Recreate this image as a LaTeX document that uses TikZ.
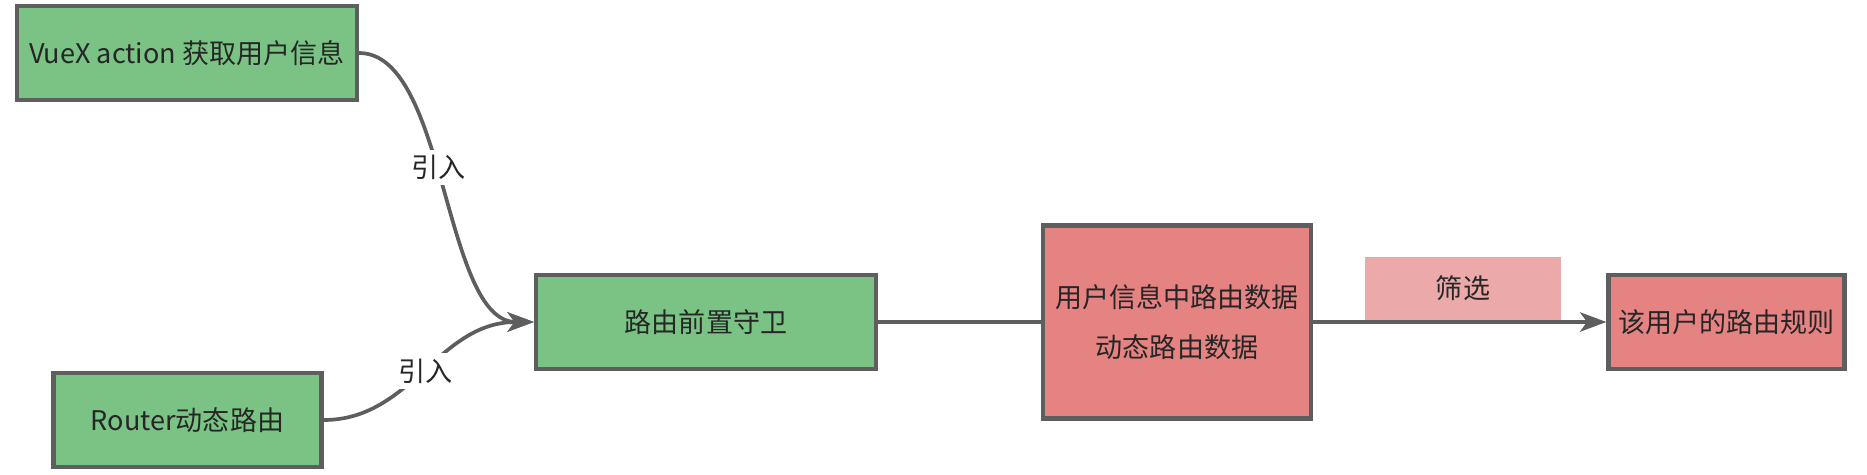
\documentclass[tikz,border=0pt]{standalone}
\usepackage{fontspec}
\setmainfont{Noto Sans CJK SC}
\usepackage{xcolor}
\usepackage{tikz}
\usetikzlibrary{arrows.meta,positioning}
\definecolor{linec}{HTML}{5E5E5E}
\definecolor{greenf}{HTML}{7AC384}
\definecolor{redf}{HTML}{E58282}
\definecolor{lblbg}{HTML}{EBA9A9}
\definecolor{txtc}{HTML}{262626}
\tikzset{
  ar/.style={-{Stealth[length=15pt,width=11pt,inset=4pt]},line width=2.1pt,linec},
  ln/.style={line width=2.1pt,linec},
  box/.style={draw=linec,line width=2.4pt,fill=greenf,align=center,inner sep=0pt,text=txtc,font=\fontsize{15.4}{28.4}\selectfont},
  rbox/.style={box,fill=redf},
  lbl/.style={fill=white,text=txtc,font=\fontsize{15.4}{18}\selectfont,inner sep=3pt}
}
\begin{document}
\begin{tikzpicture}[x=0.02cm,y=-0.02cm]
\useasboundingbox (0,0) rectangle (1867,474);
\node[box,minimum width=6.8cm,minimum height=1.88cm] (vuex) at (187,53) {VueX action 获取用户信息};
\node[box,minimum width=5.36cm,minimum height=1.88cm] (router) at (187.5,420) {Router动态路由};
\node[box,minimum width=6.8cm,minimum height=1.88cm] (guard) at (706,322) {路由前置守卫};
\node[rbox,minimum width=5.36cm,minimum height=3.86cm] (data) at (1177,322) {用户信息中路由数据\\动态路由数据};
\node[rbox,minimum width=4.72cm,minimum height=1.88cm] (rule) at (1726.5,322) {该用户的路由规则};
\node[fill=lblbg,text=txtc,minimum width=3.92cm,minimum height=1.26cm,font=\fontsize{15.4}{18}\selectfont] (filt) at (1463,288.5) {筛选};
\draw[ar] (vuex.east) .. controls +(88,0) and +(-91,0) .. (guard.west) node[lbl,pos=0.45] {引入};
\draw[ar] (router.east) .. controls +(88,0) and +(-96,0) .. (guard.west) node[lbl,pos=0.5] {引入};
\draw[ln] (guard) -- (data);
\draw[ar] (data) -- (rule);
\end{tikzpicture}
\end{document}
